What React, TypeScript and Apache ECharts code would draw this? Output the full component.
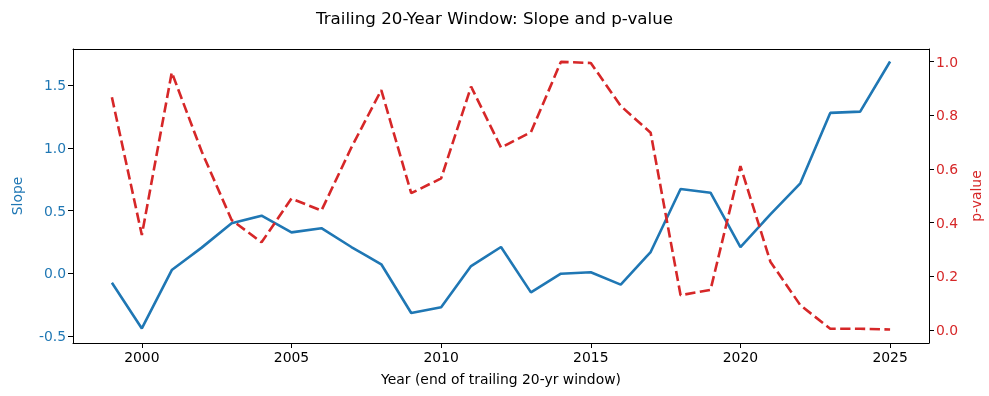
import React, { useEffect, useRef } from "react";
import * as echarts from "echarts";

const years = [1999, 2000, 2001, 2002, 2003, 2004, 2005, 2006, 2007, 2008, 2009, 2010, 2011, 2012, 2013, 2014, 2015, 2016, 2017, 2018, 2019, 2020, 2021, 2022, 2023, 2024, 2025];
const slope = [-0.075, -0.44, 0.026, 0.205, 0.40, 0.46, 0.327, 0.36, 0.21, 0.072, -0.317, -0.27, 0.058, 0.21, -0.152, -0.003, 0.008, -0.09, 0.17, 0.673, 0.643, 0.21, 0.47, 0.718, 1.28, 1.29, 1.69];
const pValue = [0.867, 0.354, 0.96, 0.665, 0.41, 0.327, 0.49, 0.445, 0.68, 0.894, 0.51, 0.565, 0.907, 0.68, 0.737, 0.999, 0.995, 0.835, 0.735, 0.13, 0.15, 0.611, 0.255, 0.093, 0.005, 0.005, 0.002];
const xTicks = [2000, 2005, 2010, 2015, 2020, 2025];
const slopeTicks = [-0.5, 0.0, 0.5, 1.0, 1.5];
const pTicks = [0.0, 0.2, 0.4, 0.6, 0.8, 1.0];

const FONT = "DejaVu Sans";
const BLUE = "#1f77b4";
const RED = "#d62728";

export default function App() {
  const ref = useRef<HTMLDivElement>(null);
  useEffect(() => {
    const chart = echarts.init(ref.current!, null, { renderer: "svg" });
    chart.setOption({
      animation: false,
      textStyle: { fontFamily: FONT },
      title: {
        text: "Trailing 20-Year Window: Slope and p-value",
        left: "center",
        top: 4,
        textStyle: { fontFamily: FONT, fontSize: 16.7, fontWeight: "normal", color: "#000" },
      },
      grid: { left: 73, right: 60, top: 49, bottom: 53, containLabel: false, outerBoundsMode: "none" },
      xAxis: [
        {
          type: "value",
          position: "bottom",
          min: 1997.7,
          max: 2026.3,
          name: "Year (end of trailing 20-yr window)",
          nameLocation: "middle",
          nameGap: 29,
          nameTextStyle: { fontFamily: FONT, fontSize: 13.9, color: "#000" },
          axisLine: { show: true, onZero: false, lineStyle: { color: "#000", width: 1 } },
          axisTick: { show: true, length: 5, customValues: xTicks, lineStyle: { color: "#000" } },
          axisLabel: { customValues: xTicks, formatter: (v: number) => String(v), fontFamily: FONT, fontSize: 13.9, color: "#000", margin: 7 },
          splitLine: { show: false },
        },
        {
          type: "value",
          position: "top",
          min: 1997.7,
          max: 2026.3,
          axisLine: { show: true, onZero: false, lineStyle: { color: "#000", width: 1 } },
          axisTick: { show: false },
          axisLabel: { show: false },
          splitLine: { show: false },
        },
      ],
      yAxis: [
        {
          type: "value",
          position: "left",
          min: -0.556,
          max: 1.79,
          name: "Slope",
          nameLocation: "middle",
          nameGap: 49,
          nameRotate: 90,
          nameTextStyle: { fontFamily: FONT, fontSize: 13.9, color: BLUE },
          axisLine: { show: true, onZero: false, lineStyle: { color: "#000", width: 1 } },
          axisTick: { show: true, length: 5, customValues: slopeTicks, lineStyle: { color: "#000" } },
          axisLabel: { customValues: slopeTicks, formatter: (v: number) => v.toFixed(1), fontFamily: FONT, fontSize: 13.9, color: BLUE, margin: 7 },
          splitLine: { show: false },
        },
        {
          type: "value",
          position: "right",
          min: -0.048,
          max: 1.047,
          name: "p-value",
          nameLocation: "middle",
          nameGap: 32,
          nameRotate: 90,
          nameTextStyle: { fontFamily: FONT, fontSize: 13.9, color: RED },
          axisLine: { show: true, onZero: false, lineStyle: { color: "#000", width: 1 } },
          axisTick: { show: true, length: 5, customValues: pTicks, lineStyle: { color: "#000" } },
          axisLabel: { customValues: pTicks, formatter: (v: number) => v.toFixed(1), fontFamily: FONT, fontSize: 13.9, color: RED, margin: 7 },
          splitLine: { show: false },
        },
      ],
      series: [
        {
          type: "line",
          name: "Slope",
          xAxisIndex: 0,
          yAxisIndex: 0,
          data: years.map((y, i) => [y, slope[i]]),
          showSymbol: false,
          symbol: "none",
          lineStyle: { color: BLUE, width: 2.6 },
          z: 3,
        },
        {
          type: "line",
          name: "p-value",
          xAxisIndex: 0,
          yAxisIndex: 1,
          data: years.map((y, i) => [y, pValue[i]]),
          showSymbol: false,
          symbol: "none",
          lineStyle: { color: RED, width: 2.6, type: [10.3, 4.45] },
          z: 4,
        },
      ],
    });
    return () => chart.dispose();
  }, []);
  return <div ref={ref} style={{ position: "fixed", left: 0, top: 0, width: 989, height: 396 }} />;
}
